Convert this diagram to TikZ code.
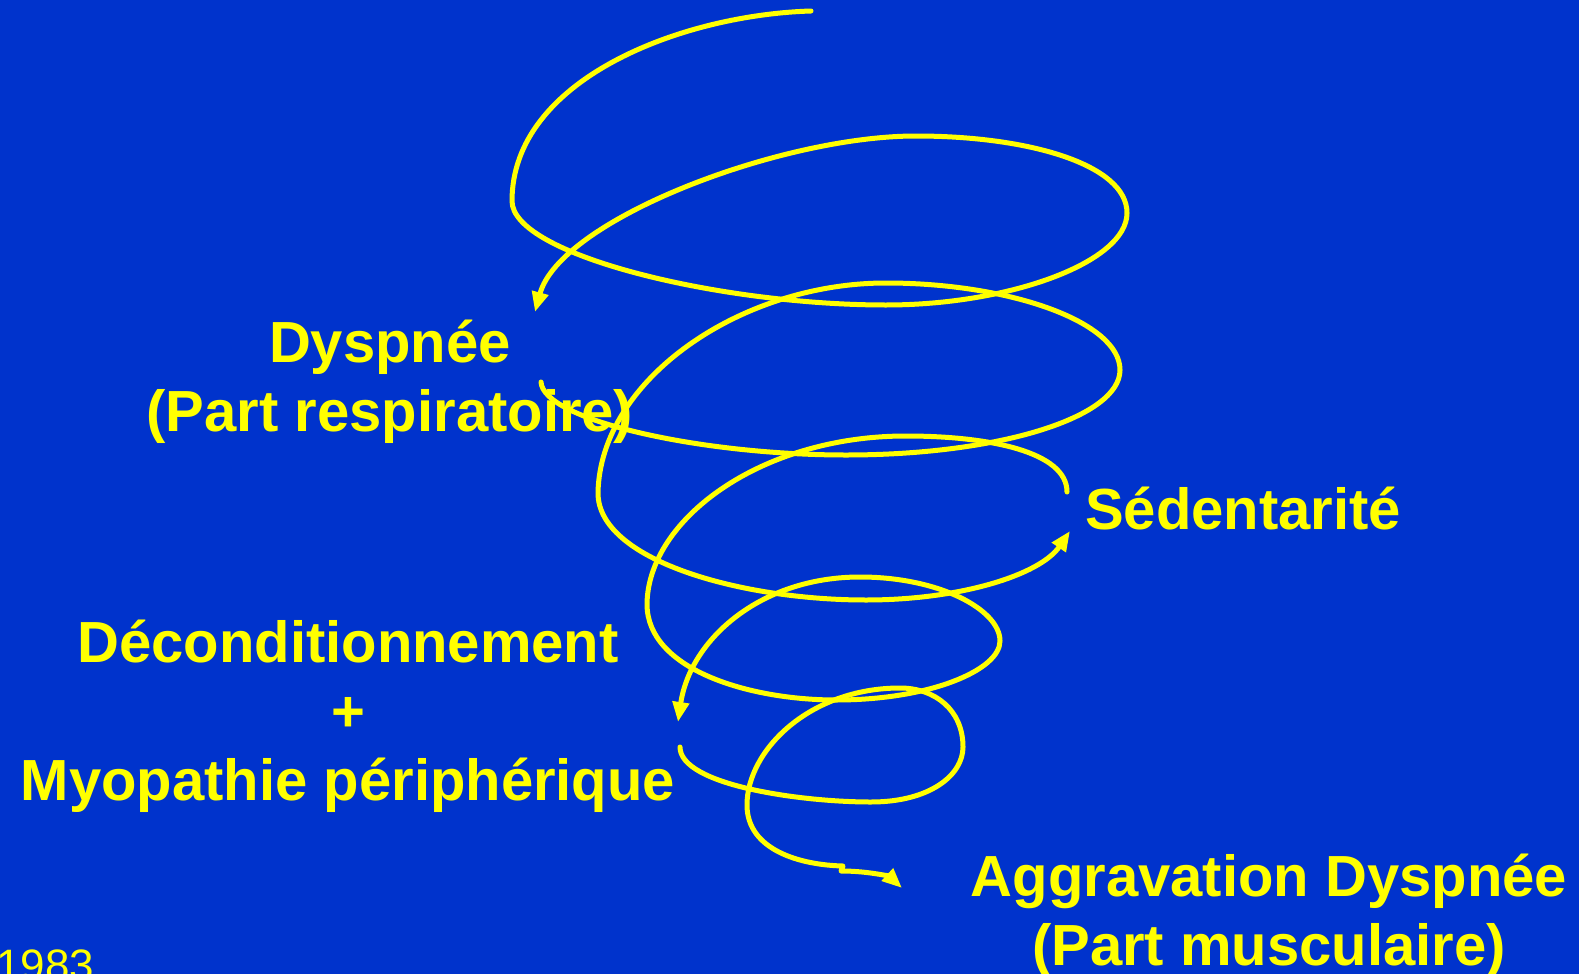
\documentclass[tikz,border=0pt]{standalone}
\usepackage{fontspec}
\setmainfont{Liberation Sans}
\usetikzlibrary{arrows.meta}
\definecolor{slideBlue}{HTML}{0033CC}
\definecolor{slideYellow}{HTML}{FFFF00}

\begin{document}
\begin{tikzpicture}[x=1pt, y=-1pt,
    spire/.style={draw=slideYellow, line width=5pt, line cap=round, line join=round},
    spireArrow/.style={spire, -{Triangle[length=20pt, width=16pt]}},
    txt/.style={text=slideYellow, font=\fontsize{58}{69}\selectfont\bfseries,
      align=center, inner sep=0pt, anchor=base}]
  % Fond
  \useasboundingbox (0,0) rectangle (1579,974);
  \fill[slideBlue] (0,0) rectangle (1579,974);
  % Etiquettes (ancre = ligne de base de la derniere ligne)
  \node[txt] (dyspnee) at (390,431) {Dyspnée\\(Part respiratoire)};
  \node[txt, anchor=base west] (sedentarite) at (1085,529) {Sédentarité};
  \node[txt] (decond) at (348,800) {Déconditionnement\\+\\Myopathie périphérique};
  \node[txt] (aggrav) at (1269,965) {Aggravation Dyspnée\\(Part musculaire)};
  \node[text=slideYellow, font=\fontsize{44}{52}\selectfont, inner sep=0pt,
    anchor=base west] (annee) at (-4,980) {1983};
  % Points de la spirale
  \coordinate (s1) at (811,11);
  \coordinate (e1) at (535,312);
  \coordinate (s2) at (541,382);
  \coordinate (e2) at (1070,531);
  \coordinate (s3) at (1067,492);
  \coordinate (e3) at (678,722);
  \coordinate (s4) at (680,747);
  \coordinate (e4) at (902,888);
  % Spire 1 : vers Dyspnee
  \draw[spireArrow] (s1) .. controls (680,15) and (512,80) .. (512,201)
    .. controls (512,255) and (720,305) .. (886,305)
    .. controls (1010,305) and (1127,262) .. (1127,213)
    .. controls (1127,165) and (1030,136) .. (916,136)
    .. controls (780,136) and (560,220) .. (e1);
  % Spire 2 : vers Sedentarite
  \draw[spireArrow] (s2) .. controls (543,420) and (700,455) .. (846,455)
    .. controls (1000,455) and (1120,417) .. (1120,370)
    .. controls (1120,322) and (1010,283) .. (886,283)
    .. controls (740,283) and (600,380) .. (598,493)
    .. controls (598,560) and (740,600) .. (866,600)
    .. controls (960,600) and (1040,575) .. (e2);
  % Spire 3 : vers Deconditionnement
  \draw[spireArrow] (s3) .. controls (1067,452) and (990,436) .. (906,436)
    .. controls (760,436) and (648,520) .. (647,604)
    .. controls (647,670) and (750,700) .. (836,700)
    .. controls (930,700) and (1000,670) .. (1000,641)
    .. controls (1000,610) and (940,577) .. (860,577)
    .. controls (760,577) and (690,640) .. (e3);
  % Spire 4 : vers Aggravation
  \draw[spireArrow] (s4) .. controls (680,785) and (800,802) .. (871,802)
    .. controls (930,802) and (963,775) .. (963,747)
    .. controls (963,710) and (935,688) .. (900,688)
    .. controls (810,688) and (747,750) .. (747,805)
    .. controls (747,850) and (800,865) .. (843,866)
    -- (841,871)
    .. controls (870,871) and (890,877) .. (e4);
\end{tikzpicture}
\end{document}
